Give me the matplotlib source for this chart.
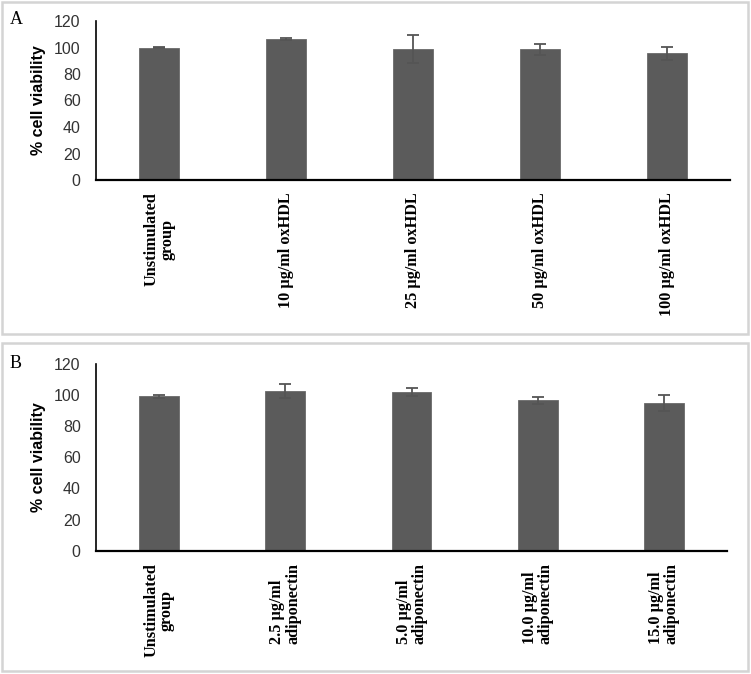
import matplotlib
matplotlib.use("Agg")
import matplotlib.pyplot as plt
from matplotlib.patches import Rectangle

# Panel A data
cats_a = ["Unstimulated\ngroup", "10 µg/ml oxHDL", "25 µg/ml oxHDL", "50 µg/ml oxHDL", "100 µg/ml oxHDL"]
vals_a = [100.0, 106.5, 98.6, 98.6, 95.6]
errs_a = [0.3, 1.0, 10.5, 4.0, 5.0]

# Panel B data
cats_b = ["Unstimulated\ngroup", "2.5 µg/ml\nadiponectin", "5.0 µg/ml\nadiponectin",
          "10.0 µg/ml\nadiponectin", "15.0 µg/ml\nadiponectin"]
vals_b = [99.2, 102.8, 102.0, 96.7, 94.9]
errs_b = [0.9, 4.5, 2.8, 2.3, 5.4]

yticks = [0, 20, 40, 60, 80, 100, 120]

W, H = 751, 674
fig = plt.figure(figsize=(W / 100, H / 100), dpi=100)

def frac_rect(x0, y0, x1, y1):
    return (x0 / W, 1 - y1 / H, (x1 - x0) / W, (y1 - y0) / H)

# panel frames
for (x0, y0, x1, y1) in [(2, 2, 748, 334), (2, 343, 748, 671)]:
    l, b, w, h = frac_rect(x0, y0, x1, y1)
    fig.patches.append(Rectangle((l, b), w, h, transform=fig.transFigure,
                                 fill=False, edgecolor="#d4d4d4", linewidth=1.8))

bar_color = "#5b5b5b"
serif = ["Liberation Serif", "DejaVu Serif"]
sans = ["Liberation Sans", "DejaVu Sans"]

def draw(ax, cats, vals, errs, aligns, lab_off):
    x = list(range(len(cats)))
    ax.bar(x, vals, width=0.315, color=bar_color, edgecolor="#6a6a6a", linewidth=0.6, zorder=2)
    ax.errorbar(x, vals, yerr=errs, fmt="none", ecolor="#555555", elinewidth=1.3,
                capsize=4.5, capthick=1.3, zorder=3)
    ax.set_xlim(-0.5, len(cats) - 0.5)
    ax.set_ylim(0, 120)
    ax.set_yticks(yticks)
    ax.set_yticklabels([str(t) for t in yticks], family=sans, fontsize=11.5, color="#333333")
    ax.set_xticks(x)
    ax.set_xticklabels([])
    for xi, c, al in zip(x, cats, aligns):
        ax.text(xi, lab_off, c, rotation=90, ha="center", va="top", multialignment=al,
                family=serif, fontweight="bold", fontsize=11.7, linespacing=1.0,
                transform=ax.transData, clip_on=False)
    ax.tick_params(axis="both", length=0, pad=11)
    for s in ["top", "right"]:
        ax.spines[s].set_visible(False)
    ax.spines["left"].set_color("black")
    ax.spines["left"].set_linewidth(1.2)
    ax.spines["bottom"].set_color("black")
    ax.spines["bottom"].set_linewidth(1.6)
    ax.set_ylabel("% cell viability", family=sans, fontweight="bold", fontsize=11.5, labelpad=6)

axA = fig.add_axes(frac_rect(96, 21, 730, 180))
draw(axA, cats_a, vals_a, errs_a, ["center"] * 5, -9.5)
axB = fig.add_axes(frac_rect(96, 364, 727, 550.7))
draw(axB, cats_b, vals_b, errs_b, ["center", "left", "left", "left", "left"], -8)

fig.text(10 / W, 1 - 20 / H, "A", family=serif, fontsize=13, va="center", ha="left")
fig.text(10 / W, 1 - 363 / H, "B", family=serif, fontsize=13, va="center", ha="left")

fig.savefig("out.png", dpi=100)
